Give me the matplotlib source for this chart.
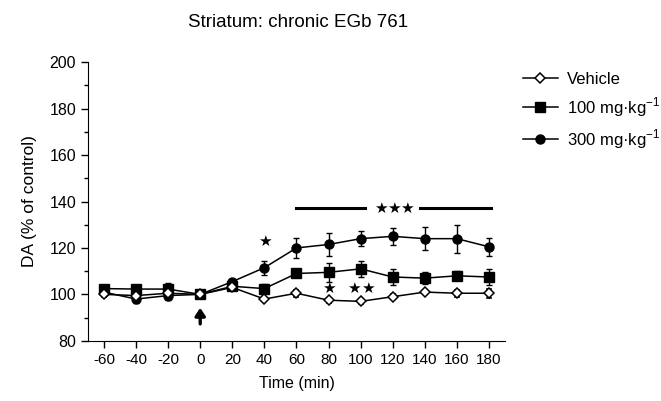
import matplotlib.pyplot as plt
from matplotlib.lines import Line2D
from matplotlib.ticker import MultipleLocator

plt.rcParams['font.family'] = ['Liberation Sans', 'DejaVu Sans']
plt.rcParams['mathtext.fontset'] = 'custom'
plt.rcParams['mathtext.rm'] = 'Liberation Sans'
plt.rcParams['axes.unicode_minus'] = False

time = [-60, -40, -20, 0, 20, 40, 60, 80, 100, 120, 140, 160, 180]

vehicle = [100, 99.5, 100.5, 100, 103, 98, 100.5, 97.5, 97, 99, 101, 100.5, 100.5]
vehicle_err = [1, 1, 1, 0.5, 1, 1, 1.5, 1, 1, 1, 1, 1.5, 2]

dose100 = [102.5, 102.3, 102.3, 100, 103.5, 102.5, 109, 109.5, 111, 107.5, 107, 108, 107.5]
dose100_err = [1, 1, 2.7, 0.5, 1, 2, 1.5, 4, 3.4, 3.6, 2.7, 2, 3.5]

dose300 = [101, 98, 99.5, 100, 105.5, 111.5, 120, 121.5, 124, 125, 124, 124, 120.5]
dose300_err = [1, 1.5, 2, 0.5, 1, 3, 4.2, 5.1, 3.1, 3.7, 5, 6, 3.9]

labels = ['Vehicle', '100 mg·kg$^{\\mathregular{-1}}$', '300 mg·kg$^{\\mathregular{-1}}$']

fig = plt.figure(figsize=(6.61, 4.01), dpi=100)
ax = fig.add_axes([0.133, 0.150, 0.631, 0.695])

common = dict(color='black', lw=1.1, capsize=2.5, elinewidth=1.0, capthick=1.0)
ax.errorbar(time, vehicle, yerr=vehicle_err, marker='D', ms=5.5, mfc='white', mec='black',
            mew=1.1, zorder=5, **common)
ax.errorbar(time, dose100, yerr=dose100_err, marker='s', ms=6.5, mfc='black', zorder=4, **common)
ax.errorbar(time, dose300, yerr=dose300_err, marker='o', ms=6.5, mfc='black', zorder=3, **common)

# significance marks
ax.plot([60, 103], [137, 137], color='black', lw=2.2)
ax.plot([137, 181], [137, 137], color='black', lw=2.2)
star = dict(family='DejaVu Sans', fontsize=11, ha='center', va='center')
for sx in [112.3, 120.6, 128.5]:
    ax.text(sx, 137, '★', **star)
ax.text(40, 123, '★', **star)
ax.text(80, 102.4, '★', **star)
ax.text(96, 102.4, '★', **star)
ax.text(104.4, 102.4, '★', **star)

# injection arrow
ax.annotate('', xy=(0, 94.2), xytext=(0, 87.3),
            arrowprops=dict(arrowstyle='-|>,head_width=0.3,head_length=0.45',
                            color='black', lw=2.4, shrinkA=0, shrinkB=0))

ax.set_xlim(-70, 190)
ax.set_ylim(80, 200)
ax.set_xticks(time)
ax.yaxis.set_major_locator(MultipleLocator(20))
ax.yaxis.set_minor_locator(MultipleLocator(10))
ax.tick_params(axis='both', direction='out', length=5, width=1, labelsize=11)
ax.tick_params(axis='y', which='minor', length=3, width=1)
ax.tick_params(axis='y', labelsize=11.5)
ax.spines['top'].set_visible(False)
ax.spines['right'].set_visible(False)

ax.set_xlabel('Time (min)', fontsize=11.5, labelpad=7)
ax.set_ylabel('DA (% of control)', fontsize=12.5, labelpad=9)
fig.text(0.451, 0.945, 'Striatum: chronic EGb 761', ha='center', va='center', fontsize=13.5)

handles = [
    Line2D([], [], color='black', lw=1.1, marker='D', ms=5.5, mfc='white', mec='black', mew=1.1),
    Line2D([], [], color='black', lw=1.1, marker='s', ms=6.5, mfc='black'),
    Line2D([], [], color='black', lw=1.1, marker='o', ms=6.5, mfc='black'),
]
ax.legend(handles, labels, loc='upper left', bbox_to_anchor=(1.043, 0.965), frameon=False,
          fontsize=12, handlelength=2.1, handletextpad=0.55, labelspacing=0.5,
          borderpad=0, borderaxespad=0)

fig.savefig('out.png', dpi=100)
